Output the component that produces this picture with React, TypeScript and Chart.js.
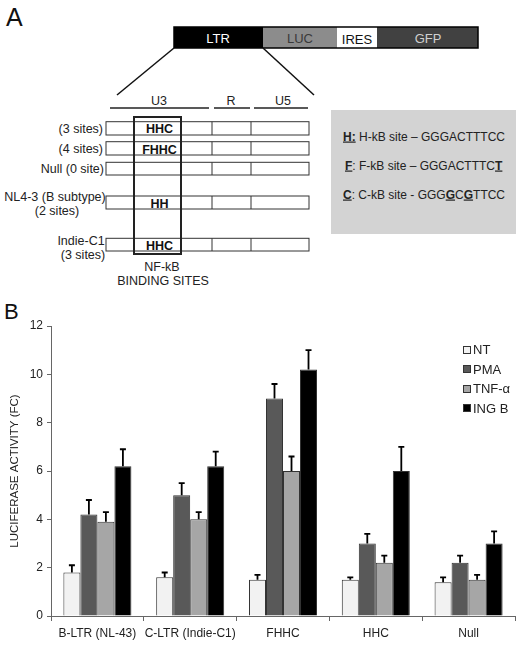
import React, { useEffect, useRef } from "react";
import { Chart, registerables } from "chart.js";

Chart.register(...registerables);

const categories = ["B-LTR (NL-43)", "C-LTR (Indie-C1)", "FHHC", "HHC", "Null"];
const seriesNames = ["NT", "PMA", "TNF-α", "ING B"];
const ntValues = [1.8, 1.6, 1.5, 1.5, 1.4];
const pmaValues = [4.2, 5.0, 9.0, 3.0, 2.2];
const tnfValues = [3.9, 4.0, 6.0, 2.2, 1.5];
const ingValues = [6.2, 6.2, 10.2, 6.0, 3.0];
const ntErrors = [0.3, 0.2, 0.2, 0.1, 0.2];
const pmaErrors = [0.6, 0.5, 0.6, 0.4, 0.3];
const tnfErrors = [0.4, 0.3, 0.6, 0.3, 0.2];
const ingErrors = [0.7, 0.6, 0.8, 1.0, 0.5];
const seriesColors = ["#f2f2f2", "#595959", "#a6a6a6", "#000000"];
const yTicks = [0, 2, 4, 6, 8, 10, 12];

const FONT = "'Liberation Sans', Arial, sans-serif";

const errorBarPlugin = {
  id: "errorBars",
  afterDatasetsDraw(chart: any) {
    const ctx = chart.ctx;
    const yScale = chart.scales.y;
    chart.data.datasets.forEach((ds: any, i: number) => {
      const meta = chart.getDatasetMeta(i);
      meta.data.forEach((bar: any, j: number) => {
        const v = ds.data[j];
        const e = ds.errors[j];
        const yTop = yScale.getPixelForValue(v + e);
        ctx.save();
        ctx.strokeStyle = "#000";
        ctx.lineWidth = 1.8;
        ctx.beginPath();
        ctx.moveTo(bar.x, bar.y);
        ctx.lineTo(bar.x, yTop);
        ctx.moveTo(bar.x - 3, yTop);
        ctx.lineTo(bar.x + 3, yTop);
        ctx.stroke();
        ctx.restore();
      });
    });
  },
};

function BarChart() {
  const ref = useRef<HTMLCanvasElement>(null);
  useEffect(() => {
    if (!ref.current) return;
    const values = [ntValues, pmaValues, tnfValues, ingValues];
    const errors = [ntErrors, pmaErrors, tnfErrors, ingErrors];
    const chart = new Chart(ref.current, {
      type: "bar",
      data: {
        labels: categories,
        datasets: seriesNames.map((name, i) => ({
          label: name,
          data: values[i],
          errors: errors[i],
          backgroundColor: seriesColors[i],
          borderColor: "#333",
          borderWidth: 1,
          categoryPercentage: 0.733,
          barPercentage: 1.0,
        })) as any,
      },
      options: {
        responsive: false,
        animation: false,
        layout: { padding: { top: 26, right: 8, left: 0, bottom: 0 } },
        plugins: { legend: { display: false }, tooltip: { enabled: false } },
        scales: {
          x: {
            offset: true,
            grid: {
              display: true,
              drawOnChartArea: false,
              drawTicks: true,
              tickLength: 5,
              offset: true,
              color: "#666",
            },
            border: { color: "#666", width: 1 },
            ticks: { font: { family: FONT, size: 12 }, color: "#222", padding: 5, maxRotation: 0, autoSkip: false },
            afterFit: (s: any) => {
              s.height = 30;
            },
          },
          y: {
            min: 0,
            max: 12,
            afterBuildTicks: (s: any) => {
              s.ticks = yTicks.map((v) => ({ value: v }));
            },
            grid: { drawOnChartArea: false, drawTicks: true, tickLength: 4, color: "#666" },
            border: { color: "#666", width: 1 },
            ticks: { font: { family: FONT, size: 12 }, color: "#222", padding: 4 },
            title: {
              display: true,
              text: "LUCIFERASE ACTIVITY (FC)",
              font: { family: FONT, size: 11.5 },
              color: "#222",
              padding: { top: 8, bottom: 0 },
            },
            afterFit: (s: any) => {
              s.width = 51;
            },
          },
        },
      } as any,
      plugins: [errorBarPlugin],
    });
    return () => chart.destroy();
  }, []);
  return <canvas ref={ref} width={523} height={346} style={{ display: "block" }} />;
}

function Legend() {
  return (
    <div style={{ position: "absolute", left: 463, top: 340, fontFamily: FONT, fontSize: 13, color: "#222" }}>
      {seriesNames.map((n, i) => (
        <div key={n} style={{ height: 19.5, display: "flex", alignItems: "center" }}>
          <span
            style={{
              display: "inline-block",
              width: 6,
              height: 6,
              border: "1px solid #333",
              background: seriesColors[i],
              marginRight: 2,
            }}
          />
          <span>{n}</span>
        </div>
      ))}
    </div>
  );
}

function PanelA() {
  const t = { fontFamily: FONT, fontSize: 12.5, fill: "#222" } as any;
  const k = { ...t, fontSize: 12 };
  const rows = [
    { y1: 121.7, y2: 135, label: "HHC", base: 133 },
    { y1: 141.7, y2: 155, label: "FHHC", base: 153.5 },
    { y1: 162.3, y2: 175, label: "", base: 0 },
    { y1: 196, y2: 209, label: "HH", base: 207.5 },
    { y1: 238.3, y2: 251, label: "HHC", base: 249.5 },
  ];
  return (
    <svg width={523} height={300} style={{ position: "absolute", left: 0, top: 0 }}>
      <text x={6} y={26} style={{ fontFamily: FONT, fontSize: 25, fill: "#111" }}>A</text>
      {/* top construct */}
      <rect x={174} y={27} width={89} height={21} fill="#000" />
      <rect x={263} y={27} width={74} height={21} fill="#8c8c8c" />
      <rect x={337} y={27} width={40} height={21} fill="#fff" />
      <rect x={377} y={27} width={101} height={21} fill="#414141" />
      <rect x={174} y={27} width={304} height={21} fill="none" stroke="#000" strokeWidth={1.5} />
      <text x={218} y={42.5} textAnchor="middle" style={{ ...t, fontSize: 13, fill: "#fff" }}>LTR</text>
      <text x={300} y={42.5} textAnchor="middle" style={{ ...t, fontSize: 13, fill: "#3a3a3a" }}>LUC</text>
      <text x={357} y={44} textAnchor="middle" style={{ ...t, fontSize: 13, fill: "#111" }}>IRES</text>
      <text x={428} y={42.5} textAnchor="middle" style={{ ...t, fontSize: 13, fill: "#d0d0d0" }}>GFP</text>
      <line x1={174} y1={48} x2={117} y2={95} stroke="#111" strokeWidth={1.5} />
      <line x1={263} y1={48} x2={314} y2={95} stroke="#111" strokeWidth={1.5} />
      {/* U3 R U5 */}
      <text x={159} y={104.5} textAnchor="middle" style={t}>U3</text>
      <text x={231} y={104.5} textAnchor="middle" style={t}>R</text>
      <text x={283} y={104.5} textAnchor="middle" style={t}>U5</text>
      <line x1={110} y1={108} x2={209} y2={108} stroke="#222" strokeWidth={1.5} />
      <line x1={214} y1={108} x2={250} y2={108} stroke="#222" strokeWidth={1.5} />
      <line x1={254} y1={108} x2={308} y2={108} stroke="#222" strokeWidth={1.5} />
      {rows.map((r, i) => (
        <g key={i}>
          <rect x={106} y={r.y1} width={203} height={r.y2 - r.y1} fill="#fff" stroke="#333" strokeWidth={1} />
          <line x1={212} y1={r.y1} x2={212} y2={r.y2} stroke="#333" strokeWidth={1} />
          <line x1={251} y1={r.y1} x2={251} y2={r.y2} stroke="#333" strokeWidth={1} />
          {r.label && (
            <text x={159.5} y={r.base} textAnchor="middle" style={{ ...t, fontWeight: "bold", fill: "#111" }}>
              {r.label}
            </text>
          )}
        </g>
      ))}
      <rect x={134} y={117} width={47} height={137} fill="none" stroke="#222" strokeWidth={2} />
      {/* left labels */}
      <text x={103} y={132.5} textAnchor="end" style={t}>(3 sites)</text>
      <text x={103} y={152.5} textAnchor="end" style={t}>(4 sites)</text>
      <text x={104} y={172.5} textAnchor="end" style={t}>Null (0 site)</text>
      <text x={55} y={200.5} textAnchor="middle" style={t}>NL4-3 (B subtype)</text>
      <text x={57} y={214.5} textAnchor="middle" style={t}>(2 sites)</text>
      <text x={81} y={244.5} textAnchor="middle" style={t}>Indie-C1</text>
      <text x={83} y={258.5} textAnchor="middle" style={t}>(3 sites)</text>
      <text x={162} y={270.5} textAnchor="middle" style={t}>NF-kB</text>
      <text x={163} y={284.5} textAnchor="middle" style={t}>BINDING SITES</text>
      {/* gray key box */}
      <rect x={331} y={110} width={185} height={124} fill="#d3d3d3" />
      <text x={343} y={140.5} style={k}>
        <tspan fontWeight="bold" style={{ textDecoration: "underline" }}>H:</tspan>
        <tspan> H-kB site – GGGACTTTCC</tspan>
      </text>
      <text x={345} y={169.5} style={k}>
        <tspan fontWeight="bold" style={{ textDecoration: "underline" }}>F</tspan>
        <tspan>: F-kB site – GGGACTTTC</tspan>
        <tspan fontWeight="bold" style={{ textDecoration: "underline" }}>T</tspan>
      </text>
      <text x={343} y={198.5} style={k}>
        <tspan fontWeight="bold" style={{ textDecoration: "underline" }}>C</tspan>
        <tspan>: C-kB site - GGG</tspan>
        <tspan fontWeight="bold" style={{ textDecoration: "underline" }}>G</tspan>
        <tspan>C</tspan>
        <tspan fontWeight="bold" style={{ textDecoration: "underline" }}>G</tspan>
        <tspan>TTCC</tspan>
      </text>
    </svg>
  );
}

export default function App() {
  return (
    <div style={{ position: "absolute", left: 0, top: 0, width: 523, height: 646, background: "#fff", overflow: "hidden" }}>
      <PanelA />
      <div style={{ position: "absolute", left: 4, top: 301, fontFamily: FONT, fontSize: 22, color: "#111", lineHeight: "22px" }}>B</div>
      <div style={{ position: "absolute", left: 0, top: 300 }}>
        <BarChart />
      </div>
      <Legend />
    </div>
  );
}
